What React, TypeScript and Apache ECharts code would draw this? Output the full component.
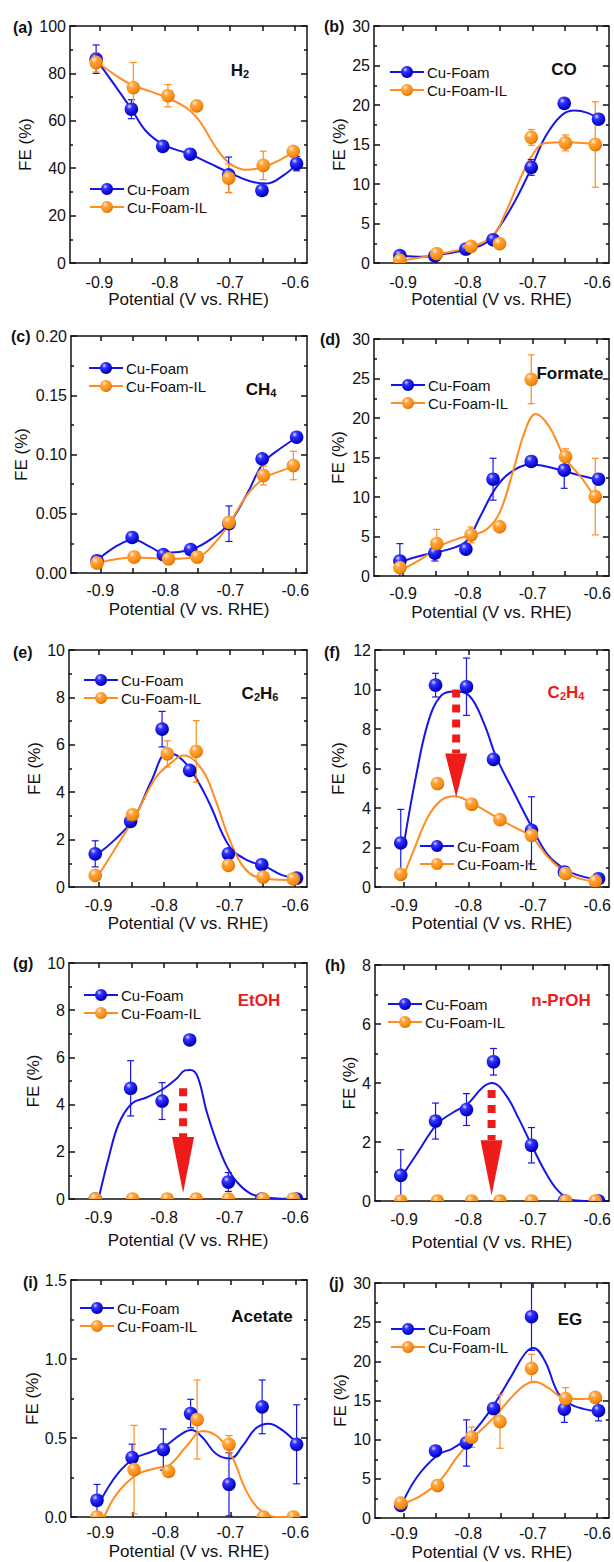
import React, { useEffect, useRef } from "react";
import * as echarts from "echarts";

const FONT = "'Liberation Sans', Arial, Helvetica, sans-serif";
const INK = "#111111";
const BLUE = "#1616e8";
const ORANGE = "#ff8c1f";
const RED = "#ef1b1b";

// ---------- shared x data ----------
const xFoam = [-0.905, -0.851, -0.803, -0.761, -0.702, -0.651, -0.598];
const xIL = [-0.905, -0.848, -0.795, -0.751, -0.702, -0.649, -0.603];
const xTickValues = [-0.9, -0.85, -0.8, -0.75, -0.7, -0.65, -0.6];
const xLabelValues = [-0.9, -0.8, -0.7, -0.6];
const X_MIN = -0.945;
const X_MAX = -0.582;

// ---------- (a) H2 ----------
const h2Foam = [86.0, 64.9, 49.2, 45.9, 37.2, 30.6, 41.9];
const h2FoamErr = [6, 4, 0, 0, 7.5, 0, 3];
const h2IL = [84.6, 74.0, 70.6, 66.3, 35.8, 41.2, 47.1];
const h2ILErr = [4, 10.6, 4.7, 0, 6, 6, 0];
const h2FoamFit = [[-0.905, 86], [-0.851, 65], [-0.828, 55.5], [-0.799, 49.5], [-0.762, 46], [-0.731, 42], [-0.7, 38], [-0.669, 34.5], [-0.644, 33.5], [-0.618, 37], [-0.598, 41.5]];
const h2ILFit = [[-0.905, 85], [-0.874, 79], [-0.849, 75], [-0.823, 72.5], [-0.799, 70], [-0.767, 65.5], [-0.746, 59.7], [-0.726, 50.6], [-0.71, 44.5], [-0.695, 41], [-0.674, 39.3], [-0.649, 40.5], [-0.623, 43.5], [-0.603, 47]];

// ---------- (b) CO ----------
const coFoam = [0.93, 0.9, 1.77, 2.95, 12.1, 20.2, 18.2];
const coFoamErr = [0, 0, 0, 0, 1, 0, 0];
const coIL = [0.34, 1.18, 2.1, 2.44, 15.9, 15.2, 15.0];
const coILErr = [0, 0, 0, 0, 1, 1, 5.4];
const coFoamFit = [[-0.9, 0.9], [-0.871, 0.8], [-0.848, 1.0], [-0.801, 1.7], [-0.771, 2.6], [-0.751, 4.6], [-0.726, 8.0], [-0.702, 12], [-0.68, 16], [-0.655, 18.7], [-0.635, 19.3], [-0.615, 19.0], [-0.599, 18.3]];
const coILFit = [[-0.9, 0.3], [-0.848, 1.1], [-0.793, 2.1], [-0.761, 3.5], [-0.741, 6.5], [-0.721, 10.3], [-0.7, 13.7], [-0.68, 15.2], [-0.65, 15.3], [-0.604, 15.1]];

// ---------- (c) CH4 ----------
const ch4Foam = [0.0104, 0.03, 0.0155, 0.0197, 0.0416, 0.0963, 0.1146];
const ch4FoamErr = [0, 0, 0, 0, 0.015, 0, 0];
const ch4IL = [0.0084, 0.0135, 0.012, 0.0135, 0.0427, 0.0823, 0.0907];
const ch4ILErr = [0, 0, 0, 0, 0, 0.008, 0.012];
const ch4FoamFit = [[-0.904, 0.011], [-0.874, 0.023], [-0.849, 0.028], [-0.823, 0.022], [-0.803, 0.017], [-0.759, 0.02], [-0.726, 0.03], [-0.7, 0.043], [-0.674, 0.067], [-0.649, 0.093], [-0.623, 0.105], [-0.596, 0.115]];
const ch4ILFit = [[-0.904, 0.0085], [-0.845, 0.013], [-0.792, 0.012], [-0.749, 0.014], [-0.726, 0.024], [-0.701, 0.042], [-0.674, 0.066], [-0.648, 0.08], [-0.623, 0.086], [-0.601, 0.09]];

// ---------- (d) Formate ----------
const formFoam = [1.9, 2.9, 3.4, 12.25, 14.5, 13.4, 12.25];
const formFoamErr = [2.2, 1.0, 0, 2.65, 0, 2.3, 0];
const formIL = [1.06, 4.1, 5.2, 6.25, 24.9, 15.1, 10.05];
const formILErr = [0, 1.8, 1.0, 0, 3.1, 1.0, 4.85];
const formFoamFit = [[-0.9, 1.9], [-0.871, 2.6], [-0.848, 3.0], [-0.821, 3.6], [-0.801, 4.5], [-0.781, 7.5], [-0.758, 11.0], [-0.736, 13.0], [-0.702, 14.1], [-0.675, 13.8], [-0.653, 13.3], [-0.625, 12.7], [-0.599, 12.2]];
const formILFit = [[-0.9, 0.9], [-0.871, 2.2], [-0.843, 3.8], [-0.816, 4.7], [-0.793, 5.2], [-0.771, 5.9], [-0.751, 8.0], [-0.731, 13.0], [-0.711, 18.5], [-0.695, 20.5], [-0.675, 19.0], [-0.65, 15.0], [-0.625, 12.5], [-0.604, 10.0]];

// ---------- (e) C2H6 ----------
const c2h6Foam = [1.4, 2.77, 6.66, 4.92, 1.4, 0.94, 0.38];
const c2h6FoamErr = [0.55, 0, 0.75, 0, 0, 0, 0];
const c2h6IL = [0.49, 3.05, 5.62, 5.72, 0.91, 0.42, 0.34];
const c2h6ILErr = [0, 0, 0.55, 1.3, 0, 0, 0];
const c2h6FoamFit = [[-0.901, 1.4], [-0.875, 2.0], [-0.846, 2.9], [-0.819, 4.5], [-0.795, 5.65], [-0.778, 5.5], [-0.758, 4.9], [-0.732, 3.6], [-0.7, 1.7], [-0.671, 1.1], [-0.648, 0.9], [-0.62, 0.5], [-0.595, 0.38]];
const c2h6ILFit = [[-0.901, 0.45], [-0.875, 1.6], [-0.844, 3.0], [-0.813, 4.6], [-0.791, 5.2], [-0.77, 5.55], [-0.742, 4.95], [-0.722, 3.7], [-0.7, 2.0], [-0.676, 0.75], [-0.648, 0.35], [-0.601, 0.3]];

// ---------- (f) C2H4 ----------
const c2h4Foam = [2.23, 10.22, 10.14, 6.46, 2.87, 0.76, 0.42];
const c2h4FoamErr = [1.7, 0.6, 1.45, 0, 1.7, 0, 0];
const c2h4IL = [0.64, 5.24, 4.19, 3.41, 2.62, 0.68, 0.29];
const c2h4ILErr = [0, 0, 0, 0, 0, 0, 0];
const c2h4FoamFit = [[-0.9, 2.2], [-0.882, 5.5], [-0.862, 8.4], [-0.842, 9.7], [-0.822, 9.9], [-0.799, 9.7], [-0.776, 8.3], [-0.757, 6.6], [-0.731, 4.9], [-0.701, 3.0], [-0.676, 1.6], [-0.65, 0.9], [-0.625, 0.55], [-0.599, 0.4]];
const c2h4ILFit = [[-0.9, 0.6], [-0.882, 2.1], [-0.862, 3.6], [-0.842, 4.4], [-0.822, 4.6], [-0.792, 4.2], [-0.75, 3.4], [-0.721, 2.9], [-0.702, 2.55], [-0.676, 1.5], [-0.65, 0.75], [-0.625, 0.4], [-0.604, 0.3]];

// ---------- (g) EtOH ----------
const etohFoam = [0, 4.69, 4.15, 6.74, 0.72, 0, 0];
const etohFoamErr = [0, 1.17, 0.78, 0, 0.4, 0, 0];
const etohIL = [0, 0, 0, 0, 0, 0, 0];
const etohILErr = [0, 0, 0, 0, 0, 0, 0];
const etohFoamFit = [[-0.9, 0], [-0.884, 1.8], [-0.869, 3.2], [-0.849, 4.05], [-0.827, 4.3], [-0.802, 4.65], [-0.781, 5.1], [-0.768, 5.45], [-0.76, 5.47], [-0.749, 5.2], [-0.735, 3.7], [-0.719, 2.35], [-0.704, 1.36], [-0.689, 0.72], [-0.668, 0.23], [-0.643, 0.05], [-0.595, 0]];

// ---------- (h) n-PrOH ----------
const prohFoam = [0.87, 2.71, 3.1, 4.72, 1.89, 0, 0];
const prohFoamErr = [0.87, 0.61, 0.54, 0.45, 0.6, 0, 0];
const prohIL = [0, 0, 0, 0, 0, 0, 0];
const prohILErr = [0, 0, 0, 0, 0, 0, 0];
const prohFoamFit = [[-0.903, 0.85], [-0.88, 1.6], [-0.849, 2.6], [-0.824, 3.0], [-0.801, 3.3], [-0.778, 3.85], [-0.763, 4.0], [-0.742, 3.6], [-0.722, 2.8], [-0.702, 1.9], [-0.681, 1.0], [-0.661, 0.35], [-0.641, 0.05], [-0.62, 0], [-0.599, 0]];

// ---------- (i) Acetate ----------
const acFoam = [0.106, 0.376, 0.427, 0.655, 0.207, 0.697, 0.46];
const acFoamErr = [0.1, 0.085, 0.13, 0.09, 0.2, 0.17, 0.25];
const acIL = [0, 0.3, 0.289, 0.617, 0.46, 0, 0];
const acILErr = [0, 0.28, 0, 0.25, 0.055, 0, 0];
const acFoamFit = [[-0.9, 0.1], [-0.874, 0.27], [-0.848, 0.37], [-0.823, 0.41], [-0.8, 0.45], [-0.777, 0.52], [-0.76, 0.55], [-0.742, 0.5], [-0.722, 0.4], [-0.7, 0.37], [-0.681, 0.45], [-0.661, 0.56], [-0.641, 0.59], [-0.62, 0.55], [-0.596, 0.46]];
const acILFit = [[-0.894, 0], [-0.874, 0.15], [-0.843, 0.27], [-0.813, 0.31], [-0.793, 0.33], [-0.767, 0.45], [-0.742, 0.545], [-0.717, 0.5], [-0.696, 0.37], [-0.676, 0.17], [-0.656, 0.05], [-0.63, 0], [-0.604, 0]];

// ---------- (j) EG ----------
const egFoam = [1.61, 8.56, 9.58, 13.98, 25.7, 13.9, 13.7];
const egFoamErr = [0, 0, 2.95, 0, 4.3, 1.7, 1.3];
const egIL = [1.91, 4.15, 10.3, 12.3, 19.1, 15.25, 15.4];
const egILErr = [0, 0, 1.3, 3.4, 1.8, 1.4, 0];
const egFoamFit = [[-0.903, 1.8], [-0.88, 5.2], [-0.848, 8.0], [-0.824, 8.9], [-0.801, 10.2], [-0.778, 12.4], [-0.759, 14.6], [-0.732, 18.3], [-0.712, 21.0], [-0.699, 21.7], [-0.681, 20.0], [-0.661, 16.0], [-0.641, 14.5], [-0.62, 13.9], [-0.599, 13.6]];
const egILFit = [[-0.903, 1.8], [-0.875, 2.8], [-0.845, 4.7], [-0.819, 7.6], [-0.793, 10.2], [-0.763, 12.6], [-0.732, 15.5], [-0.712, 17.0], [-0.697, 17.4], [-0.676, 16.6], [-0.651, 15.3], [-0.625, 15.2], [-0.603, 15.3]];

// ---------- red arrows (panels f, g, h) ----------
const arrowPanel = [5, 6, 7];
const arrowX = [-0.819, -0.771, -0.764];
const arrowTop = [10.0, 4.69, 3.76];
const arrowHeadTop = [6.76, 2.63, 2.06];
const arrowTip = [4.56, 0.25, 0.19];

// ---------- panel descriptors ----------
const tags = ["(a)", "(b)", "(c)", "(d)", "(e)", "(f)", "(g)", "(h)", "(i)", "(j)"];
const products = ["{m|H}{s|2}", "{m|CO}", "{m|CH}{s|4}", "{m|Formate}", "{m|C}{s|2}{m|H}{s|6}", "{m|C}{s|2}{m|H}{s|4}", "{m|EtOH}", "{m|n-PrOH}", "{m|Acetate}", "{m|EG}"];
const productRed = [false, false, false, false, false, true, true, true, false, false];
const yMaxes = [100, 30, 0.2, 30, 10, 12, 10, 8, 1.5, 30];
const ySteps = [20, 5, 0.05, 5, 2, 2, 2, 2, 0.5, 5];
const yDecimals = [0, 0, 2, 0, 0, 0, 0, 0, 1, 0];
const foamVals = [h2Foam, coFoam, ch4Foam, formFoam, c2h6Foam, c2h4Foam, etohFoam, prohFoam, acFoam, egFoam];
const foamErrs = [h2FoamErr, coFoamErr, ch4FoamErr, formFoamErr, c2h6FoamErr, c2h4FoamErr, etohFoamErr, prohFoamErr, acFoamErr, egFoamErr];
const ilVals = [h2IL, coIL, ch4IL, formIL, c2h6IL, c2h4IL, etohIL, prohIL, acIL, egIL];
const ilErrs = [h2ILErr, coILErr, ch4ILErr, formILErr, c2h6ILErr, c2h4ILErr, etohILErr, prohILErr, acILErr, egILErr];
const foamFits = [h2FoamFit, coFoamFit, ch4FoamFit, formFoamFit, c2h6FoamFit, c2h4FoamFit, etohFoamFit, prohFoamFit, acFoamFit, egFoamFit];
const ilFits: any[] = [h2ILFit, coILFit, ch4ILFit, formILFit, c2h6ILFit, c2h4ILFit, null, null, acILFit, egILFit];

// ---------- layout ----------
const grids = [
  { left: 70, top: 26, width: 237, height: 237 },
  { left: 374, top: 26, width: 238, height: 237 },
  { left: 71, top: 336, width: 236, height: 237 },
  { left: 374, top: 339, width: 238, height: 237 },
  { left: 69, top: 650, width: 238, height: 237 },
  { left: 375, top: 650, width: 237, height: 237 },
  { left: 69, top: 963, width: 238, height: 236 },
  { left: 375, top: 965, width: 237, height: 236 },
  { left: 71, top: 1280, width: 236, height: 237 },
  { left: 375, top: 1283, width: 237, height: 236 },
];
const legendPos = [[89, 181.5], [389, 64.5], [88, 360.5], [390, 377.5], [83, 672.5], [419, 838.5], [83, 987.5], [387, 996.5], [79, 1300.5], [390, 1321.5]];
const tagPos = [[13, 27], [324, 26], [11, 336], [320, 339], [13, 652], [324, 652], [13, 963], [325, 965], [23, 1282], [329, 1283]];
const productPos = [[240, 69], [564, 68], [261, 388], [570, 372], [260, 692], [566, 691], [259, 999], [561, 999], [262, 1315], [570, 1318]];
const xNameGaps = [23, 23, 28, 28, 28, 28, 33, 33, 26, 26];
const xLabelMargins = [11, 11, 9, 9, 10, 10, 10, 10, 7, 7];
const yNameGaps = [36.5, 26.5, 41.5, 27.5, 26.5, 28.5, 27.5, 16.5, 30.5, 26.5];

const blueSphere = () =>
  new echarts.graphic.RadialGradient(0.36, 0.3, 0.72, [
    { offset: 0, color: "#d4d4ff" },
    { offset: 0.28, color: "#3434ff" },
    { offset: 0.8, color: "#0808d0" },
    { offset: 1, color: "#0000a8" },
  ]);
const orangeSphere = () =>
  new echarts.graphic.RadialGradient(0.36, 0.3, 0.72, [
    { offset: 0, color: "#fff0d8" },
    { offset: 0.3, color: "#ffa43c" },
    { offset: 0.8, color: "#f58a12" },
    { offset: 1, color: "#d86e00" },
  ]);

function fitSeries(name: string, data: number[][], color: string, fill: any, i: number) {
  return {
    type: "line", name, xAxisIndex: 2 * i, yAxisIndex: 2 * i, data,
    smooth: 0.4, symbol: "none", showSymbol: false, silent: true, z: 2,
    lineStyle: { color, width: 2 }, itemStyle: { color: fill },
    emphasis: { disabled: true },
  };
}

function errSeries(name: string, xs: number[], ys: number[], errs: number[], color: string, i: number) {
  const data = xs.map((x, k) => [x, ys[k] - errs[k], ys[k] + errs[k]]).filter((_, k) => errs[k] > 0);
  return {
    type: "custom", name, xAxisIndex: 2 * i, yAxisIndex: 2 * i, silent: true, z: 3, clip: true,
    data, encode: { x: 0, y: [1, 2] },
    renderItem: (params: any, api: any) => {
      const x = api.value(0);
      const lo = api.coord([x, api.value(1)]);
      const hi = api.coord([x, api.value(2)]);
      const c = 3.5;
      const st = { stroke: color, lineWidth: 1.2 };
      return {
        type: "group",
        children: [
          { type: "line", shape: { x1: lo[0], y1: lo[1], x2: hi[0], y2: hi[1] }, style: st },
          { type: "line", shape: { x1: hi[0] - c, y1: hi[1], x2: hi[0] + c, y2: hi[1] }, style: st },
          { type: "line", shape: { x1: lo[0] - c, y1: lo[1], x2: lo[0] + c, y2: lo[1] }, style: st },
        ],
      };
    },
  };
}

function dotSeries(name: string, xs: number[], ys: number[], grad: () => any, z: number, i: number) {
  return {
    type: "custom", name, xAxisIndex: 2 * i, yAxisIndex: 2 * i, silent: true, z, clip: true,
    data: xs.map((x, k) => [x, ys[k]]), encode: { x: 0, y: 1 },
    renderItem: (params: any, api: any) => {
      const p = api.coord([api.value(0), api.value(1)]);
      return { type: "circle", shape: { cx: p[0], cy: p[1], r: 6.8 }, style: { fill: grad() } };
    },
  };
}

function arrowSeries(k: number) {
  const i = arrowPanel[k];
  return {
    type: "custom", name: "arrow", xAxisIndex: 2 * i, yAxisIndex: 2 * i, silent: true, z: 6, clip: false,
    data: [[arrowX[k], arrowTop[k], arrowHeadTop[k], arrowTip[k]]],
    encode: { x: 0, y: [1, 2, 3] },
    renderItem: (params: any, api: any) => {
      const x = api.value(0);
      const a = api.coord([x, api.value(1)]);
      const b = api.coord([x, api.value(2)]);
      const c = api.coord([x, api.value(3)]);
      return {
        type: "group",
        children: [
          { type: "line", shape: { x1: a[0], y1: a[1], x2: b[0], y2: b[1] }, style: { stroke: RED, lineWidth: 8, lineDash: [8, 7] } },
          { type: "polygon", shape: { points: [[b[0] - 11, b[1]], [b[0] + 11, b[1]], [c[0], c[1]]] }, style: { fill: RED } },
        ],
      };
    },
  };
}

function buildOption() {
  const axisLineStyle = { color: INK, width: 1.5 };
  const option: any = {
    animation: false,
    backgroundColor: "#ffffff",
    textStyle: { fontFamily: FONT },
    grid: [], xAxis: [], yAxis: [], legend: [], series: [], graphic: [],
  };

  tags.forEach((tag, i) => {
    option.grid.push({ ...grids[i] });

    const xBase = {
      type: "value", gridIndex: i, min: X_MIN, max: X_MAX,
      axisLine: { show: true, onZero: false, lineStyle: axisLineStyle },
      axisTick: { show: true, inside: true, length: 5, customValues: xTickValues, lineStyle: axisLineStyle },
      splitLine: { show: false },
    };
    option.xAxis.push({
      ...xBase, position: "bottom",
      name: "Potential (V vs. RHE)", nameLocation: "middle", nameGap: xNameGaps[i],
      nameTextStyle: { fontSize: 17, color: INK, fontFamily: FONT },
      axisLabel: { customValues: xLabelValues, formatter: (v: number) => v.toFixed(1), fontSize: 16, color: INK, margin: xLabelMargins[i], fontFamily: FONT },
    });
    option.xAxis.push({ ...xBase, position: "top", axisLabel: { show: false } });

    const dec = yDecimals[i];
    const yBase = {
      type: "value", gridIndex: i, min: 0, max: yMaxes[i], interval: ySteps[i],
      axisLine: { show: true, onZero: false, lineStyle: axisLineStyle },
      axisTick: { show: true, inside: true, length: 6, lineStyle: axisLineStyle },
      minorTick: { show: true, splitNumber: 2, length: 3, lineStyle: axisLineStyle },
      splitLine: { show: false }, minorSplitLine: { show: false },
    };
    option.yAxis.push({
      ...yBase, position: "left",
      name: "FE (%)", nameLocation: "middle", nameGap: yNameGaps[i],
      nameTextStyle: { fontSize: 17, color: INK, fontFamily: FONT },
      axisLabel: { formatter: (v: number) => v.toFixed(dec), fontSize: 16, color: INK, margin: 4, fontFamily: FONT },
    });
    option.yAxis.push({ ...yBase, position: "right", axisLabel: { show: false } });

    option.legend.push({
      data: ["Cu-Foam", "Cu-Foam-IL"], orient: "vertical",
      left: legendPos[i][0], top: legendPos[i][1], padding: 0,
      itemWidth: 34, itemHeight: 15, itemGap: 3, selectedMode: false,
      textStyle: { fontSize: 15, color: INK, fontFamily: FONT, padding: [0, 0, 0, -2] },
    });

    option.series.push(fitSeries("Cu-Foam", foamFits[i], BLUE, blueSphere(), i));
    if (ilFits[i]) option.series.push(fitSeries("Cu-Foam-IL", ilFits[i], ORANGE, orangeSphere(), i));
    option.series.push(errSeries("Cu-Foam error", xFoam, foamVals[i], foamErrs[i], BLUE, i));
    option.series.push(errSeries("Cu-Foam-IL error", xIL, ilVals[i], ilErrs[i], ORANGE, i));
    option.series.push(dotSeries("Cu-Foam points", xFoam, foamVals[i], blueSphere, 4, i));
    option.series.push(dotSeries("Cu-Foam-IL points", xIL, ilVals[i], orangeSphere, 5, i));

    option.graphic.push({
      type: "text", x: tagPos[i][0], y: tagPos[i][1], silent: true,
      style: { text: tag, font: `bold 16px ${FONT}`, fill: INK, align: "left", verticalAlign: "middle" },
    });
    const pc = productRed[i] ? RED : INK;
    option.graphic.push({
      type: "text", x: productPos[i][0], y: productPos[i][1], silent: true,
      style: {
        text: products[i], align: "center", verticalAlign: "middle", fill: pc,
        rich: {
          m: { fontSize: 17, fontWeight: "bold", fontFamily: FONT, fill: pc, lineHeight: 20, verticalAlign: "bottom" },
          s: { fontSize: 11, fontWeight: "bold", fontFamily: FONT, fill: pc, lineHeight: 13, verticalAlign: "bottom" },
        },
      },
    });
  });

  arrowPanel.forEach((_, k) => option.series.push(arrowSeries(k)));
  return option;
}

export default function App() {
  const ref = useRef<HTMLDivElement>(null);
  useEffect(() => {
    if (!ref.current) return;
    const chart = echarts.init(ref.current, undefined, { renderer: "svg" });
    chart.setOption(buildOption());
    return () => chart.dispose();
  }, []);
  return (
    <div
      ref={ref}
      style={{ position: "absolute", left: 0, top: 0, width: 614, height: 1562, background: "#fff" }}
    />
  );
}
